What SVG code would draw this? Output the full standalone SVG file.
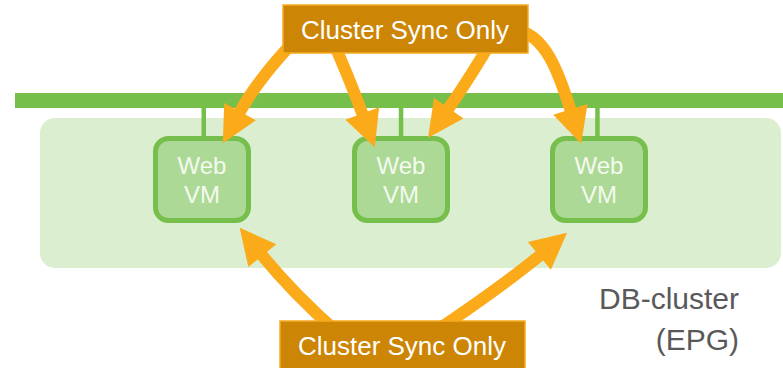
<svg xmlns="http://www.w3.org/2000/svg" width="783" height="368" viewBox="0 0 783 368">
  <style>
    .area { fill: #dbeed0; }
    .bar { fill: #77bf4b; }
    .stem { fill: #77bf4b; }
    .vm rect { fill: #acd995; stroke: #76bf4c; stroke-width: 5; }
    .vm text { fill: #f4faf0; font-family: "Liberation Sans", Arial, sans-serif; font-size: 24px; text-anchor: middle; }
    .label rect { fill: #cc8504; stroke: #f7aa22; stroke-width: 1.5; }
    .label text { fill: #ffffff; font-family: "Liberation Sans", Arial, sans-serif; font-size: 26px; text-anchor: middle; }
    .shaft { fill: none; stroke: #fbaa19; stroke-width: 12; marker-end: url(#head); }
    .caption { fill: #595959; font-family: "Liberation Sans", Arial, sans-serif; font-size: 30px; text-anchor: end; }
  </style>
  <defs>
    <marker id="head" markerUnits="userSpaceOnUse" markerWidth="36" markerHeight="36" viewBox="0 -17 34 34" refX="2" refY="0" orient="auto" overflow="visible">
      <path d="M0,-17 L34,0 L0,17 Z" fill="#fbaa19"/>
    </marker>
  </defs>

  <!-- EPG area and network bar -->
  <rect class="area" x="40" y="118" width="741" height="150" rx="15"/>
  <rect class="bar" x="15" y="93" width="768" height="15"/>
  <rect class="stem" x="201.5" y="106" width="4.5" height="32"/>
  <rect class="stem" x="398.8" y="106" width="4.5" height="32"/>
  <rect class="stem" x="595.2" y="106" width="4.5" height="32"/>

  <!-- Web VMs -->
  <g id="vm1" class="vm">
    <rect x="155.5" y="138.5" width="93" height="82" rx="13"/>
    <text x="202" y="174">Web</text>
    <text x="202" y="203">VM</text>
  </g>
  <g id="vm2" class="vm">
    <rect x="354.5" y="138.5" width="93" height="82" rx="13"/>
    <text x="401" y="174">Web</text>
    <text x="401" y="203">VM</text>
  </g>
  <g id="vm3" class="vm">
    <rect x="552.5" y="138.5" width="93" height="82" rx="13"/>
    <text x="599" y="174">Web</text>
    <text x="599" y="203">VM</text>
  </g>

  <!-- sync connectors -->
  <g id="connectors">
    <path class="shaft" d="M300,35 Q258,78.4 239,113.5"/>
    <path class="shaft" d="M330,35 Q347.4,73.2 363,115.5"/>
    <path class="shaft" d="M495,35 Q470.4,77.2 447.5,110"/>
    <path class="shaft" d="M515,30 C545,33 559,73.3 571,111.5"/>
    <path class="shaft" d="M338,333 Q292.5,292.9 261,254"/>
    <path class="shaft" d="M430,335 Q502.5,286.5 541,254.5"/>
  </g>

  <!-- labels -->
  <g id="label-top" class="label">
    <rect x="283" y="5" width="245" height="48"/>
    <text x="405" y="39">Cluster Sync Only</text>
  </g>
  <g id="label-bottom" class="label">
    <rect x="280" y="321" width="245" height="48"/>
    <text x="402" y="355">Cluster Sync Only</text>
  </g>

  <g id="epg-caption">
    <text class="caption" x="739" y="309">DB-cluster</text>
    <text class="caption" x="739" y="350">(EPG)</text>
  </g>
</svg>
